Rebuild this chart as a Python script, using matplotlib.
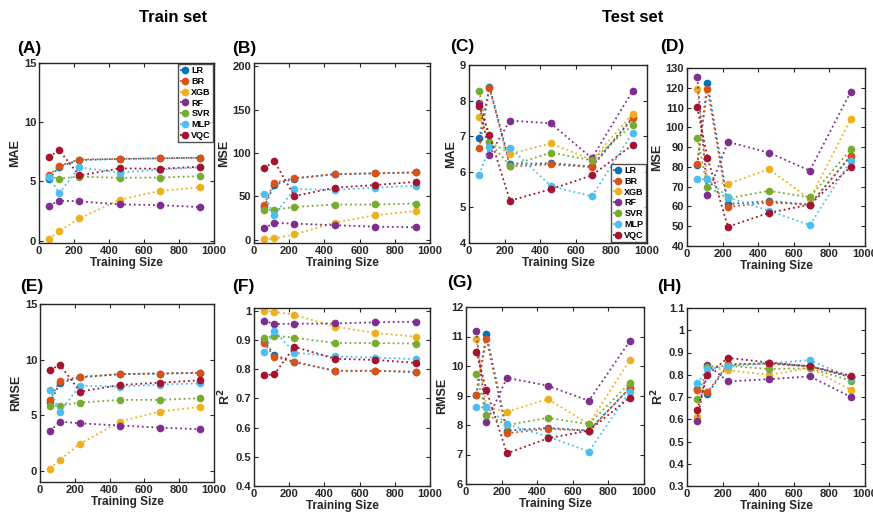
import matplotlib
matplotlib.use("Agg")
import matplotlib.pyplot as plt
from matplotlib.ticker import FuncFormatter

plt.rcParams["font.family"] = ["Liberation Sans", "DejaVu Sans"]
plt.rcParams["font.weight"] = "bold"

models = ["LR", "BR", "XGB", "RF", "SVR", "MLP", "VQC"]
colors = ["#0072BD", "#D95319", "#EDB120", "#7E2F8E", "#77AC30", "#4DBEEE", "#A2142F"]
train_size = [57.5, 115, 230, 460, 690, 920]

# rows follow models order
train_mae = [
    [5.2, 6.25, 6.8, 6.9, 6.95, 7.0],
    [5.5, 6.3, 6.85, 6.9, 6.95, 7.0],
    [0.15, 0.8, 1.87, 3.44, 4.2, 4.5],
    [2.95, 3.38, 3.32, 3.06, 3.0, 2.83],
    [5.4, 5.24, 5.41, 5.3, 5.33, 5.44],
    [5.38, 4.0, 6.18, 5.75, 6.0, 6.18],
    [7.07, 7.64, 5.5, 6.1, 6.07, 6.24],
]
train_mse = [
    [37.6, 63.0, 70.5, 75.5, 76.5, 77.5],
    [40.4, 65.5, 71.0, 75.7, 76.5, 77.6],
    [0.4, 1.2, 5.9, 19.6, 28.2, 33.0],
    [12.9, 19.2, 18.4, 16.5, 14.9, 14.1],
    [34.5, 34.5, 37.6, 40.4, 40.5, 41.6],
    [52.5, 28.2, 58.4, 57.3, 60.0, 62.0],
    [82.4, 90.6, 50.2, 60.0, 63.0, 66.7],
]
train_rmse = [
    [6.15, 7.9, 8.4, 8.7, 8.75, 8.8],
    [6.4, 8.1, 8.45, 8.7, 8.75, 8.83],
    [0.2, 0.99, 2.43, 4.43, 5.33, 5.75],
    [3.59, 4.43, 4.28, 4.07, 3.89, 3.74],
    [5.87, 5.87, 6.14, 6.38, 6.38, 6.53],
    [7.28, 5.33, 7.66, 7.57, 7.75, 7.87],
    [9.07, 9.52, 7.13, 7.72, 7.93, 8.14],
]
train_r2 = [
    [0.897, 0.849, 0.824, 0.795, 0.795, 0.79],
    [0.891, 0.842, 0.826, 0.794, 0.795, 0.792],
    [1.0, 0.998, 0.986, 0.946, 0.924, 0.912],
    [0.966, 0.955, 0.956, 0.957, 0.961, 0.963],
    [0.908, 0.915, 0.908, 0.89, 0.89, 0.888],
    [0.858, 0.932, 0.857, 0.844, 0.84, 0.835],
    [0.779, 0.783, 0.877, 0.836, 0.832, 0.822],
]
test_mae = [
    [6.94, 8.39, 6.22, 6.24, 6.15, 7.53],
    [6.66, 8.36, 6.15, 6.21, 6.13, 7.5],
    [7.55, 6.85, 6.5, 6.8, 6.33, 7.63],
    [7.93, 6.46, 7.44, 7.36, 6.38, 8.28],
    [8.28, 6.83, 6.17, 6.54, 6.32, 7.32],
    [5.92, 6.69, 6.68, 5.6, 5.31, 7.1],
    [7.86, 7.04, 5.19, 5.51, 5.9, 6.76],
]
test_mse = [
    [81.1, 122.6, 61.2, 62.7, 60.9, 85.6],
    [81.4, 119.4, 59.8, 62.0, 60.9, 85.6],
    [119.5, 73.8, 71.3, 78.9, 63.7, 104.2],
    [125.3, 65.7, 92.6, 87.2, 78.1, 118.0],
    [94.6, 70.0, 64.1, 67.9, 64.6, 88.9],
    [73.8, 73.8, 64.6, 57.8, 50.6, 83.1],
    [110.1, 84.5, 49.7, 56.8, 60.9, 80.1],
]
test_rmse = [
    [9.01, 11.07, 7.81, 7.9, 7.81, 9.25],
    [9.03, 10.92, 7.72, 7.87, 7.81, 9.25],
    [10.93, 8.6, 8.45, 8.88, 8.03, 10.2],
    [11.18, 8.09, 9.6, 9.33, 8.82, 10.84],
    [9.72, 8.35, 8.0, 8.24, 8.03, 9.42],
    [8.6, 8.6, 8.03, 7.61, 7.1, 9.13],
    [10.48, 9.18, 7.04, 7.55, 7.81, 8.93],
]
test_r2 = [
    [0.735, 0.714, 0.844, 0.853, 0.838, 0.79],
    [0.733, 0.721, 0.849, 0.849, 0.838, 0.79],
    [0.61, 0.833, 0.82, 0.8, 0.83, 0.733],
    [0.59, 0.845, 0.77, 0.78, 0.793, 0.7],
    [0.691, 0.837, 0.84, 0.826, 0.829, 0.774],
    [0.762, 0.826, 0.838, 0.851, 0.866, 0.786],
    [0.642, 0.80, 0.876, 0.855, 0.838, 0.796],
]

W, H = 873, 513
fig = plt.figure(figsize=(W / 100, H / 100), dpi=100)

def px_rect(l, r, t, b):
    return [l / W, 1 - b / H, (r - l) / W, (b - t) / H]

panels = [
    ("(A)", train_mae, "MAE", (-0.2, 15), [0, 5, 10, 15], (39, 214, 63, 243), (17, 48), "upper right"),
    ("(B)", train_mse, "MSE", (-4, 204), [0, 50, 100, 150, 200], (254, 430, 63, 243), (232, 48), None),
    ("(C)", test_mae, "MAE", (4, 9), [4, 5, 6, 7, 8, 9], (469, 647, 65, 243), (450, 47), "lower right"),
    ("(D)", test_mse, "MSE", (40, 130), list(range(40, 131, 10)), (687, 865, 68, 246), (660, 47), None),
    ("(E)", train_rmse, "RMSE", (-1, 15), [0, 5, 10, 15], (40, 214, 304, 482), (20, 286), None),
    ("(F)", train_r2, r"R$^{\mathbf{2}}$", (0.4, 1.01), [0.4, 0.5, 0.6, 0.7, 0.8, 0.9, 1.0], (254, 430, 308, 486), (232, 286), None),
    ("(G)", test_rmse, "RMSE", (6, 12), [6, 7, 8, 9, 10, 11, 12], (466, 644, 307, 484), (447, 282), None),
    ("(H)", test_r2, r"R$^{\mathbf{2}}$", (0.3, 1.1), [0.3, 0.4, 0.5, 0.6, 0.7, 0.8, 0.9, 1.0, 1.1], (687, 865, 308, 486), (657, 287), None),
]

fmt = FuncFormatter(lambda v, p: "%g" % round(v, 3))

for tag, data, ylab, ylim, yticks, rect, lab_xy, leg in panels:
    ax = fig.add_axes(px_rect(*rect))
    for name, col, vals in zip(models, colors, data):
        ax.plot(train_size, vals, ":", color=col, lw=1.3, marker="o", ms=4.5,
                mec=col, mfc=col, label=name)
    ax.set_xlim(0, 1000)
    ax.set_ylim(*ylim)
    ax.set_xticks([0, 200, 400, 600, 800, 1000])
    ax.set_yticks(yticks)
    ax.yaxis.set_major_formatter(fmt)
    ax.tick_params(direction="in", top=True, right=True, length=3, width=0.8,
                   labelsize=8, pad=2, colors="#262626")
    for lbl in ax.get_xticklabels() + ax.get_yticklabels():
        lbl.set_fontweight("bold")
    for s in ax.spines.values():
        s.set_linewidth(1.0)
        s.set_color("#262626")
    ax.set_xlabel("Training Size", fontsize=8.5, fontweight="bold", labelpad=1, color="#262626")
    ax.set_ylabel(ylab, fontsize=9, fontweight="bold", labelpad=2, color="#262626")
    fig.text(lab_xy[0] / W, 1 - lab_xy[1] / H, tag, fontsize=12.5, fontweight="bold",
             ha="left", va="center")
    if leg:
        lg = ax.legend(loc=leg, frameon=True, fancybox=False,
                       edgecolor="#262626", borderaxespad=0.1, borderpad=0.25,
                       labelspacing=0.2, handlelength=1.0, handletextpad=0.25,
                       prop={"weight": "bold", "size": 6.5})
        lg.get_frame().set_linewidth(1.0)

fig.text(173 / W, 1 - 18 / H, "Train set", fontsize=12, fontweight="bold", ha="center", va="center")
fig.text(633 / W, 1 - 18 / H, "Test set", fontsize=12, fontweight="bold", ha="center", va="center")

fig.savefig("out.png", dpi=100, facecolor="white")
